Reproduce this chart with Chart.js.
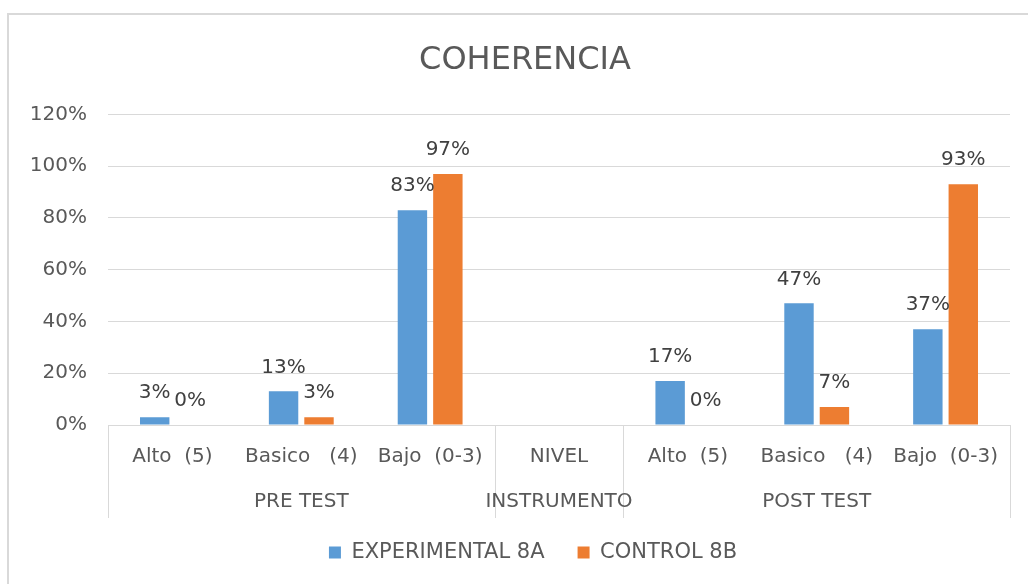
<!DOCTYPE html>
<html>
<head>
<meta charset="utf-8">
<script src="https://cdn.jsdelivr.net/npm/chart.js@4"></script>
<style>
  html, body { margin: 0; background: #fff; overflow: hidden; }
  #wrap { position: relative; width: 1028px; height: 584px; overflow: hidden; }
  #frame { position: absolute; left: 7px; top: 13px; width: 2000px; height: 1000px; border-left: 2px solid #d9d9d9; border-top: 2px solid #d9d9d9; }
  canvas { position: absolute; left: 0; top: 0; }
</style>
</head>
<body>
<div id="wrap">
  <div id="frame"></div>
  <canvas id="chartCoherencia" width="1028" height="584"></canvas>
</div>
<script>
const levels = ["Alto  (5)", "Basico   (4)", "Bajo  (0-3)", "NIVEL", "Alto  (5)", "Basico   (4)", "Bajo  (0-3)"];
const groups = [
    { label: "PRE TEST", from: 0, to: 2 },
    { label: "INSTRUMENTO", from: 3, to: 3 },
    { label: "POST TEST", from: 4, to: 6 },
];
const experimental = [3, 13, 83, null, 17, 47, 37];
const control = [0, 3, 97, null, 0, 7, 93];
const yTicks = [0, 20, 40, 60, 80, 100, 120];

const FONT = "'DejaVu Sans', sans-serif";
const TEXT = "#595959";
const GRID = "#d9d9d9";

// etiquetas encima de cada barra
const barLabels = {
    id: "barLabels",
    afterDatasetsDraw(chart) {
        const ctx = chart.ctx;
        ctx.save();
        ctx.font = "20px " + FONT;
        ctx.fillStyle = "#404040";
        ctx.textAlign = "center";
        ctx.textBaseline = "middle";
        chart.data.datasets.forEach((ds, i) => {
            chart.getDatasetMeta(i).data.forEach((bar, j) => {
                if (ds.data[j] == null) return;
                ctx.fillText(ds.data[j] + "%", bar.x, bar.y - 24);
            });
        });
        ctx.restore();
    },
};

// eje de categorías en dos niveles
const groupAxis = {
    id: "groupAxis",
    afterDraw(chart) {
        const ctx = chart.ctx;
        const x = chart.scales.x;
        const top = chart.chartArea.bottom;
        const half = (x.getPixelForValue(1) - x.getPixelForValue(0)) / 2;
        ctx.save();
        ctx.strokeStyle = GRID;
        ctx.lineWidth = 1;
        const edges = [x.getPixelForValue(0) - half];
        groups.forEach(g => edges.push(x.getPixelForValue(g.to) + half));
        edges.forEach(px => {
            px = Math.round(px) + 0.5;
            ctx.beginPath();
            ctx.moveTo(px, top);
            ctx.lineTo(px, top + 93);
            ctx.stroke();
        });
        ctx.font = "20px " + FONT;
        ctx.fillStyle = TEXT;
        ctx.textAlign = "center";
        ctx.textBaseline = "middle";
        groups.forEach(g => {
            const cx = (x.getPixelForValue(g.from) + x.getPixelForValue(g.to)) / 2;
            ctx.fillText(g.label, cx, top + 77);
        });
        ctx.restore();
    },
};

// título y leyenda centrados como en Excel (sobre todo el marco, no el lienzo)
const recenter = {
    id: "recenter",
    afterLayout(chart) {
        chart.titleBlock.left = 40;
        chart.legend.left = 56;
    },
};

new Chart(document.getElementById("chartCoherencia"), {
    type: "bar",
    data: {
        labels: levels,
        datasets: [
            { label: "EXPERIMENTAL 8A", data: experimental, backgroundColor: "#5b9bd5", categoryPercentage: 0.55, barPercentage: 0.83 },
            { label: "CONTROL 8B", data: control, backgroundColor: "#ed7d31", categoryPercentage: 0.55, barPercentage: 0.83 },
        ],
    },
    options: {
        responsive: false,
        animation: false,
        layout: { padding: { left: 0, right: 18, top: 0, bottom: 11 } },
        scales: {
            x: {
                grid: { display: false, drawTicks: false },
                border: { display: false },
                ticks: { color: TEXT, font: { family: FONT, size: 20 }, padding: 20, maxRotation: 0, autoSkip: false },
                afterFit: s => { s.height = 84; },
            },
            y: {
                min: 0, max: 120,
                afterBuildTicks: s => { s.ticks = yTicks.map(v => ({ value: v })); },
                grid: { color: GRID, drawTicks: false },
                border: { display: false },
                ticks: { color: TEXT, font: { family: FONT, size: 20 }, padding: 21, callback: v => v + "%" },
                afterFit: s => { s.width = 108; },
            },
        },
        plugins: {
            title: {
                display: true, text: "COHERENCIA", color: TEXT,
                font: { family: FONT, size: 32, weight: "normal" },
                padding: { top: 41, bottom: 35 },
            },
            legend: {
                position: "bottom",
                labels: { color: TEXT, font: { family: FONT, size: 21 }, boxWidth: 12, boxHeight: 12, padding: 33 },
            },
            tooltip: { enabled: false },
        },
    },
    plugins: [barLabels, groupAxis, recenter],
});
</script>
</body>
</html>
